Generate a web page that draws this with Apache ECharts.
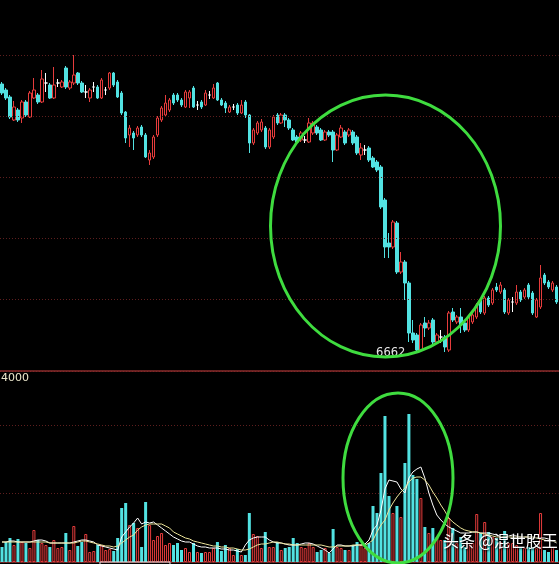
<!DOCTYPE html>
<html>
<head>
<meta charset="utf-8">
<script src="https://cdn.jsdelivr.net/npm/echarts@6/dist/echarts.min.js"></script>
<style>
  html, body { margin: 0; padding: 0; background: #000; }
  #chart { width: 559px; height: 564px; }
</style>
</head>
<body>
<div id="chart"></div>
<script>
// K线数据 [开, 收, 低, 高]
const ohlc = [
  [7738,7702,7694,7746],[7714,7682,7674,7722],[7686,7606,7598,7694],[7594,7646,7590,7670],
  [7634,7594,7586,7642],[7602,7666,7582,7674],[7666,7614,7606,7674],[7606,7702,7602,7710],
  [7682,7714,7678,7762],[7694,7666,7658,7702],[7666,7758,7662,7794],[7742,7742,7706,7782],
  [7734,7682,7678,7742],[7682,7734,7678,7806],[7742,7742,7726,7758],[7726,7746,7722,7754],
  [7802,7726,7718,7810],[7722,7746,7714,7754],[7742,7774,7734,7854],[7782,7742,7734,7786],
  [7742,7706,7702,7750],[7706,7706,7682,7734],[7682,7714,7666,7722],[7726,7726,7706,7746],
  [7726,7682,7678,7734],[7682,7754,7678,7762],[7714,7714,7694,7726],[7722,7782,7714,7786],
  [7782,7734,7726,7786],[7746,7686,7682,7754],[7702,7622,7614,7710],[7626,7522,7502,7630],
  [7534,7562,7486,7574],[7542,7522,7474,7550],[7534,7562,7526,7570],[7566,7534,7526,7574],
  [7534,7446,7442,7542],[7434,7462,7414,7474],[7446,7526,7438,7534],[7534,7602,7526,7610],
  [7594,7642,7586,7650],[7614,7662,7606,7694],[7634,7674,7626,7682],[7694,7662,7654,7702],
  [7694,7674,7666,7702],[7674,7654,7646,7682],[7646,7706,7642,7714],[7682,7706,7642,7714],
  [7722,7646,7642,7730],[7654,7654,7634,7670],[7666,7646,7638,7674],[7654,7702,7650,7714],
  [7694,7694,7678,7710],[7682,7722,7678,7738],[7742,7674,7670,7746],[7674,7654,7650,7682],
  [7662,7642,7622,7670],[7626,7646,7622,7654],[7646,7646,7634,7658],[7654,7622,7614,7662],
  [7622,7654,7618,7674],[7666,7614,7602,7674],[7614,7502,7462,7618],[7502,7554,7494,7562],
  [7542,7582,7534,7590],[7554,7586,7546,7598],[7562,7486,7478,7570],[7486,7554,7478,7562],
  [7526,7606,7518,7614],[7614,7582,7574,7622],[7582,7614,7578,7622],[7614,7594,7566,7622],
  [7594,7562,7554,7602],[7554,7514,7510,7562],[7526,7506,7498,7534],[7514,7542,7506,7550],
  [7514,7514,7502,7530],[7506,7582,7502,7602],[7542,7582,7534,7590],[7566,7542,7534,7574],
  [7554,7514,7510,7562],[7514,7546,7510,7554],[7546,7534,7526,7554],[7546,7474,7426,7554],
  [7474,7534,7470,7542],[7526,7562,7522,7574],[7546,7502,7494,7554],[7534,7554,7526,7562],
  [7546,7502,7494,7554],[7526,7462,7454,7534],[7454,7482,7434,7502],[7474,7474,7454,7494],
  [7482,7434,7426,7490],[7442,7406,7402,7450],[7426,7394,7386,7434],[7406,7246,7238,7414],
  [7274,7086,7042,7282],[7102,7086,7042,7142],[7086,7186,7078,7194],[7182,6986,6978,7190],
  [6986,7026,6978,7066],[7026,6942,6874,7034],[6942,6742,6706,6950],[6742,6714,6702,6794],
  [6734,6674,6662,6742],[6674,6774,6666,6782],[6782,6762,6726,6806],[6762,6782,6754,6794],
  [6794,6706,6698,6802],[6706,6734,6698,6742],[6726,6726,6702,6754],[6726,6686,6666,6734],
  [6674,6822,6666,6830],[6826,6794,6786,6842],[6786,6806,6778,6814],[6806,6774,6742,6842],
  [6782,6754,6746,6790],[6754,6806,6746,6814],[6786,6814,6778,6822],[6806,6854,6798,6862],
  [6874,6826,6818,6882],[6822,6882,6814,6890],[6882,6854,6846,6890],[6862,6914,6854,6922],
  [6926,6914,6906,6942],[6906,6934,6898,6946],[6914,6826,6818,6922],[6822,6874,6814,6882],
  [6866,6866,6826,6886],[6862,6906,6854,6934],[6906,6874,6866,6914],[6886,6914,6878,6922],
  [6934,6886,6878,6942],[6902,6822,6814,6910],[6806,6874,6802,6882],[6846,6962,6838,7014],
  [6974,6942,6934,6982],[6946,6926,6918,6954],[6914,6942,6906,6950],[6926,6866,6858,6934]
];

// 成交量
const volume = [
  300,400,480,340,460,400,380,280,640,440,380,340,300,440,280,300,580,240,720,320,
  400,560,200,220,340,340,240,260,220,480,1080,1180,740,780,680,300,1200,740,440,520,
  580,340,380,340,380,240,280,200,380,200,180,200,200,280,400,220,340,280,140,260,
  140,140,980,560,520,280,600,300,300,400,240,280,300,480,380,300,280,380,300,200,
  240,280,180,660,300,280,240,240,340,400,340,280,380,1120,980,1780,2920,1320,980,1120,
  900,1980,2960,1740,1660,1280,700,580,680,500,440,440,880,680,380,500,300,380,380,960,
  580,800,600,500,480,400,620,380,380,340,280,280,300,300,280,980,240,200,300,240
];

// 量均线（白线、黄线）
const ma5 = [
  400,400,420,420,400,400,400,400,420,440,440,420,380,380,380,380,380,380,400,420,
  440,440,420,400,340,320,300,280,260,240,500,600,700,780,880,760,800,780,800,740,
  680,620,560,500,460,420,400,400,360,320,300,300,280,280,280,260,260,240,240,220,
  200,340,440,480,500,500,500,440,400,380,380,360,340,340,340,360,380,380,360,320,
  280,240,180,260,340,340,320,320,320,340,340,360,440,640,740,1040,1460,1640,1620,1600,
  1460,1380,1680,1800,1860,1900,1680,1380,1140,940,840,760,700,660,620,580,580,580,600,600,
  580,580,580,560,540,500,500,520,540,520,500,500,500,500,480,480,480,460,420,380
];
const ma10 = [
  400,400,400,400,400,400,400,400,400,400,400,400,380,380,380,380,380,380,380,400,
  420,420,400,380,360,340,320,320,300,320,380,440,500,540,640,700,740,760,760,760,
  760,720,680,600,560,520,480,460,420,400,380,360,340,320,320,300,300,280,280,260,
  240,240,260,300,340,360,360,380,400,400,380,360,360,340,340,340,340,340,340,340,
  340,320,300,300,320,320,320,320,340,340,340,340,380,440,600,740,840,1040,1180,1300,
  1400,1480,1600,1680,1700,1700,1640,1540,1400,1280,1140,1020,880,800,740,680,640,620,600,600,
  580,560,540,520,500,500,500,500,500,500,500,500,500,500,480,460,440,420,420,400
];

// 价格区网格线所在价位
const priceLevels = [7854, 7610, 7366, 7122, 6878];
const days = ohlc.map((d, i) => String(i + 1));

const RED = '#e63c3c';
const CYAN = '#52e2e2';
const GRID_DOT = '#5e1e1e';
const GRID_SOLID = '#8c2c2c';
const GREEN = '#3fdc3f';

const chart = echarts.init(document.getElementById('chart'));

const volData = volume.map((v, i) => {
  const up = ohlc[i][1] >= ohlc[i][0];
  return {
    value: v,
    itemStyle: up
      ? { color: '#000', borderColor: RED, borderWidth: 1 }
      : { color: CYAN, borderColor: CYAN, borderWidth: 0 }
  };
});

chart.setOption({
  backgroundColor: '#000',
  animation: false,
  grid: [
    { left: -1.5, right: 0.5, top: 0, height: 371 },
    { left: -1.5, right: 0.5, top: 371, height: 191 }
  ],
  xAxis: [
    {
      type: 'category', data: days, gridIndex: 0, boundaryGap: true,
      axisLine: { show: true, lineStyle: { color: GRID_SOLID, width: 1.5 } },
      axisTick: { show: false }, axisLabel: { show: false }, splitLine: { show: false }
    },
    {
      type: 'category', data: days, gridIndex: 1, boundaryGap: true,
      axisLine: { show: true, lineStyle: { color: GRID_SOLID, width: 1.5 } },
      axisTick: { show: false }, axisLabel: { show: false }, splitLine: { show: false }
    }
  ],
  yAxis: [
    {
      type: 'value', gridIndex: 0, min: 6590, max: 8074, scale: true,
      axisLine: { show: false }, axisTick: { show: false }, axisLabel: { show: false },
      splitLine: { show: false }
    },
    {
      type: 'value', gridIndex: 1, min: 0, max: 3820, interval: 1370,
      axisLine: { show: false }, axisTick: { show: false }, axisLabel: { show: false },
      splitLine: { show: true, lineStyle: { color: GRID_DOT, type: [1, 2], width: 1 } }
    }
  ],
  series: [
    {
      name: 'K线',
      type: 'candlestick',
      xAxisIndex: 0, yAxisIndex: 0,
      data: ohlc,
      barWidth: 3,
      itemStyle: {
        color: '#000',
        color0: CYAN,
        borderColor: RED,
        borderColor0: CYAN,
        borderColorDoji: '#ffffff',
        borderWidth: 1
      },
      markLine: {
        silent: true,
        symbol: 'none',
        label: { show: false },
        lineStyle: { color: GRID_DOT, type: [1, 2], width: 1 },
        data: priceLevels.map((p) => ({ yAxis: p }))
      },
      markPoint: {
        symbol: 'rect',
        symbolSize: 1,
        itemStyle: { color: 'rgba(0,0,0,0)' },
        label: {
          show: true,
          position: 'left',
          distance: 11,
          color: '#e6e6e6',
          fontSize: 11.5,
          fontFamily: 'DejaVu Sans',
          formatter: (p) => String(p.value)
        },
        data: [{ type: 'min', valueDim: 'lowest' }]
      }
    },
    {
      name: '成交量',
      type: 'bar',
      xAxisIndex: 1, yAxisIndex: 1,
      data: volData,
      barWidth: 3
    },
    {
      name: 'MA5',
      type: 'line',
      xAxisIndex: 1, yAxisIndex: 1,
      data: ma5,
      symbol: 'none',
      lineStyle: { color: '#ffffff', width: 1 }
    },
    {
      name: 'MA10',
      type: 'line',
      xAxisIndex: 1, yAxisIndex: 1,
      data: ma10,
      symbol: 'none',
      lineStyle: { color: '#ece49a', width: 1 }
    }
  ],
  graphic: [
    {
      type: 'text', left: 1, top: 373, z: 100,
      style: { text: '4000', fill: '#ece8cc', fontSize: 11, fontFamily: 'DejaVu Sans' }
    },
    {
      type: 'ellipse', z: 100,
      shape: { cx: 385.5, cy: 226, rx: 115, ry: 131 },
      style: { fill: 'none', stroke: GREEN, lineWidth: 3 }
    },
    {
      type: 'ellipse', z: 100,
      shape: { cx: 398, cy: 478, rx: 55, ry: 85 },
      style: { fill: 'none', stroke: GREEN, lineWidth: 3 }
    },
    {
      type: 'rect', z: 100,
      shape: { x: 100, y: 562, width: 70, height: 6 },
      style: { fill: 'none', stroke: '#e0e0e0', lineWidth: 1 }
    },
    {
      type: 'text', left: 443, top: 533, z: 110,
      style: {
        text: '头条 @混世股王', fill: '#ffffff', fontSize: 16,
        fontFamily: 'Noto Sans CJK SC',
        textShadowColor: 'rgba(0,0,0,0.9)', textShadowBlur: 2,
        textShadowOffsetX: 1, textShadowOffsetY: 1
      }
    }
  ]
});
</script>
</body>
</html>
